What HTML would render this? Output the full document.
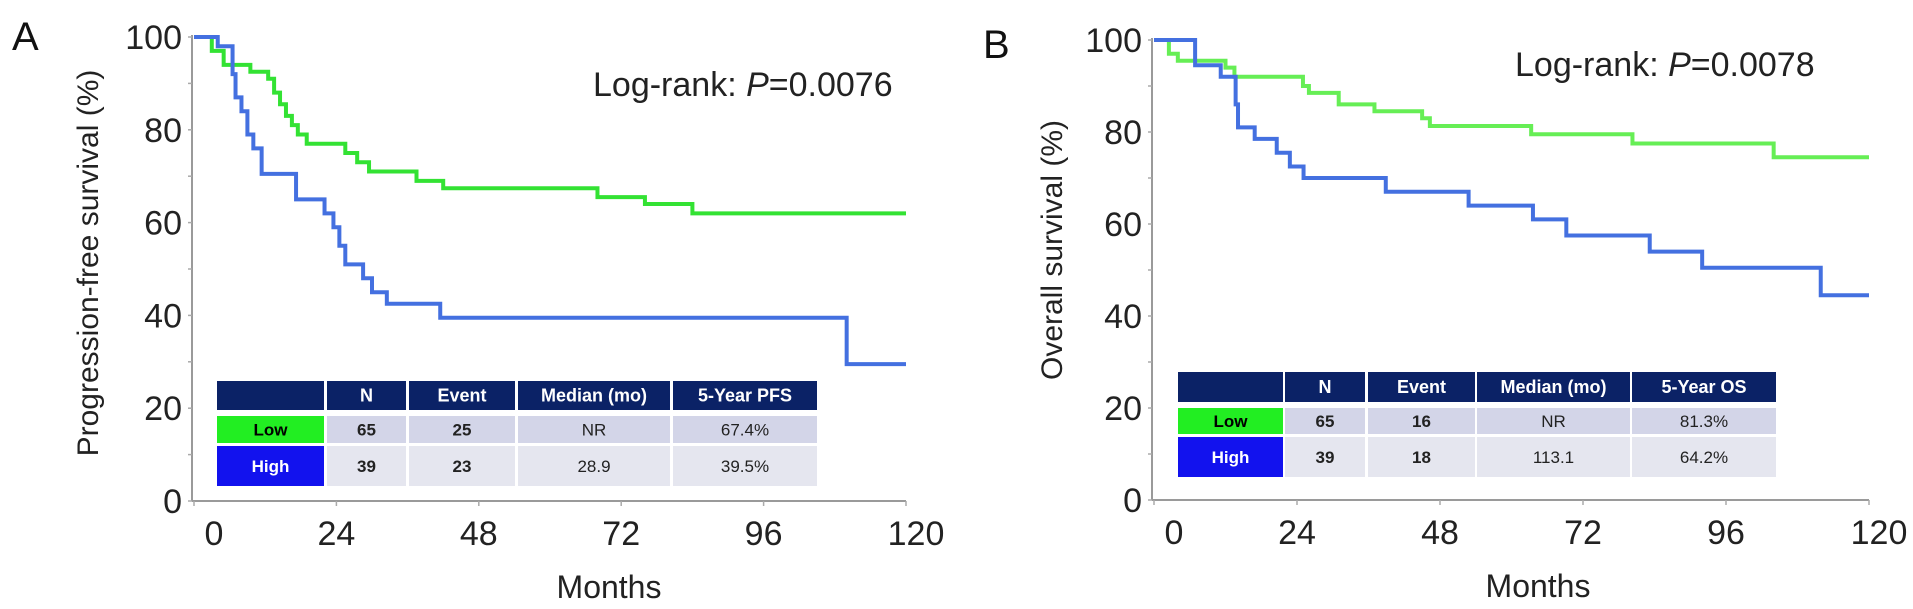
<!DOCTYPE html>
<html><head><meta charset="utf-8">
<style>
html,body{margin:0;padding:0;background:#fff;}
svg{display:block;font-family:"Liberation Sans",Arial,sans-serif;}
</style></head>
<body>
<svg id="fig" width="1913" height="609" viewBox="0 0 1913 609"></svg>
<script>
// ---- Panel A data (PFS) ----
const aLowTimes = [0,3,5,9.5,12.5,13.5,14.5,15.5,16.5,17.5,19,25.5,27.5,29.5,37.5,42,68,76,84];
const aLowSurv  = [100,97,94,92.5,91,88,85.5,83,81,79,77,75,73,71,69,67.4,65.5,64,62];
const aHighTimes = [0,4,6.5,7,8,9,10,11.4,17.2,22,23.5,24.5,25.5,28.5,30,32.5,41.5,110];
const aHighSurv  = [100,98,92,87,84,79,76,70.5,65,62,59,55,51,48,45,42.5,39.5,29.5];
// ---- Panel B data (OS) ----
const bLowTimes = [0,2.5,4,12,13.5,25,26,31,37,45,46.3,63.3,80.3,104];
const bLowSurv  = [100,97,95.5,94,92,90,88.5,86,84.5,83,81.3,79.5,77.5,74.5];
const bHighTimes = [0,6.9,11.2,13.7,14.1,16.9,20.6,22.8,25.1,38.9,52.8,63.6,69.2,83.2,92,111.9];
const bHighSurv  = [100,94.5,92,86,81,78.5,75.5,72.5,70,67,64,61,57.5,54,50.5,44.5];
const xTicks = [0,24,48,72,96,120];
const yTicks = [0,20,40,60,80,100];
const tableHeader = ["","N","Event","Median (mo)"];
const aTableLow = ["Low","65","25","NR","67.4%"];
const aTableHigh = ["High","39","23","28.9","39.5%"];
const bTableLow = ["Low","65","16","NR","81.3%"];
const bTableHigh = ["High","39","18","113.1","64.2%"];

const NS="http://www.w3.org/2000/svg";
const svg=document.getElementById('fig');
function mk(tag,attrs,parent){const e=document.createElementNS(NS,tag);for(const k in attrs)e.setAttribute(k,attrs[k]);(parent||svg).appendChild(e);return e;}

function panel(cfg){
  const g=mk('g',{});
  
  
  const X=m=>cfg.x0+(cfg.x1-cfg.x0)*m/120;
  const Y=p=>cfg.y0-(cfg.y0-cfg.y1)*p/100;
  const ya=mk('line',{x1:cfg.x0-2,y1:Y(100)-2,x2:cfg.x0-2,y2:cfg.y0,stroke:'#9a9a9a','stroke-width':2},g);
  
  
  const xa=mk('line',{x1:cfg.x0-2,y1:cfg.y0,x2:cfg.x1,y2:cfg.y0,stroke:'#9a9a9a','stroke-width':2},g);
  
  
  for(let v=0;v<=100;v+=10){mk('line',{x1:cfg.x0-6,y1:Y(v),x2:cfg.x0-2,y2:Y(v),stroke:'#aaa','stroke-width':1.5},g);}
  yTicks.forEach(v=>{
    const t=mk('text',{x:cfg.x0-12,y:Y(v)+12,'text-anchor':'end','font-size':34,fill:'#222'},g);
    t.textContent=v;
    
    
  });
  xTicks.forEach(v=>{
    mk('line',{x1:X(v),y1:cfg.y0,x2:X(v),y2:cfg.y0+5,stroke:'#aaa','stroke-width':1.5},g);
    const t=mk('text',{x:X(v)+(v===0?20:v===120?10:0),y:cfg.y0+44,'text-anchor':'middle','font-size':34,fill:'#222'},g);
    t.textContent=v;
    
    
  });
  const xt=mk('text',{x:cfg.monthsX,y:cfg.y0+97,'text-anchor':'middle','font-size':32,fill:'#222'},g);
  xt.textContent='Months';
  
  
  const yt=mk('text',{x:0,y:0,'text-anchor':'middle','font-size':30,fill:'#222',transform:`translate(${cfg.ytX},${cfg.ytY}) rotate(-90)`},g);
  yt.textContent=cfg.yTitle;
  
  
  const pl=mk('text',{x:cfg.letterX,y:cfg.letterY,'font-size':40,fill:'#111'},g);
  pl.textContent=cfg.letter;
  
  
  const lr=mk('text',{x:cfg.lrX,y:cfg.lrY,'font-size':34,fill:'#222'},g);
  lr.innerHTML='Log-rank: <tspan font-style="italic">P</tspan>='+cfg.p;
  
  
  function curve(times,surv,color,nm){
    let d=`M${X(0)},${Y(surv[0])}`;
    for(let i=1;i<times.length;i++){d+=` H${X(times[i])} V${Y(surv[i])}`;}
    d+=` H${X(120)}`;
    const p=mk('path',{d:d,fill:'none',stroke:color,'stroke-width':4},g);
    
    
  }
  curve(cfg.lowT,cfg.lowS,cfg.green,'low-expression-curve');
  curve(cfg.highT,cfg.highS,'#4470e0','high-expression-curve');
  const tb=mk('g',{},g);
  
  
  const cols=cfg.cols, rows=cfg.rows;
  const header=tableHeader.concat([cfg.lastHeader]);
  const data=[header,cfg.tLow,cfg.tHigh];
  for(let r=0;r<3;r++){
    for(let c=0;c<5;c++){
      let fill;
      if(r===0) fill='#0b2266';
      else if(c===0) fill=(r===1?'#22ee22':'#1212ee');
      else fill=(r===1?'#d3d5e8':'#e5e6ef');
      mk('rect',{x:cols[c][0],y:rows[r][0],width:cols[c][1]-cols[c][0],height:rows[r][1]-rows[r][0],fill:fill},tb);
      const txt=data[r][c];
      if(!txt) continue;
      const bold=(r===0||c<=2);
      const col=(r===0)?'#fff':(c===0?(r===1?'#000':'#fff'):'#222');
      const t=mk('text',{x:(cols[c][0]+cols[c][1])/2,y:(rows[r][0]+rows[r][1])/2+6,'text-anchor':'middle','font-size':r===0?18:17,'font-weight':bold?'bold':'normal',fill:col},tb);
      t.textContent=txt;
      
      
    }
  }
}

panel({name:'panel-a-pfs',x0:194,x1:906,y0:501,y1:37,yTitle:'Progression-free survival (%)',ytX:98,ytY:263,
  monthsX:609,letter:'A',letterX:12,letterY:50,lrX:593,lrY:96,p:'0.0076',green:'#33e233',
  lowT:aLowTimes,lowS:aLowSurv,highT:aHighTimes,highS:aHighSurv,lastHeader:'5-Year PFS',tLow:aTableLow,tHigh:aTableHigh,
  cols:[[217,324],[327,406],[409,515],[518,670],[673,817]],rows:[[381,410],[416,443],[446,486]]});
panel({name:'panel-b-os',x0:1154,x1:1869,y0:500,y1:40,yTitle:'Overall survival (%)',ytX:1062,ytY:250,
  monthsX:1538,letter:'B',letterX:983,letterY:58,lrX:1515,lrY:76,p:'0.0078',green:'#66ee55',
  lowT:bLowTimes,lowS:bLowSurv,highT:bHighTimes,highS:bHighSurv,lastHeader:'5-Year OS',tLow:bTableLow,tHigh:bTableHigh,
  cols:[[1178,1283],[1285,1365],[1368,1475],[1477,1630],[1632,1776]],rows:[[372,402],[408,434],[437,477]]});
</script>
</body></html>
